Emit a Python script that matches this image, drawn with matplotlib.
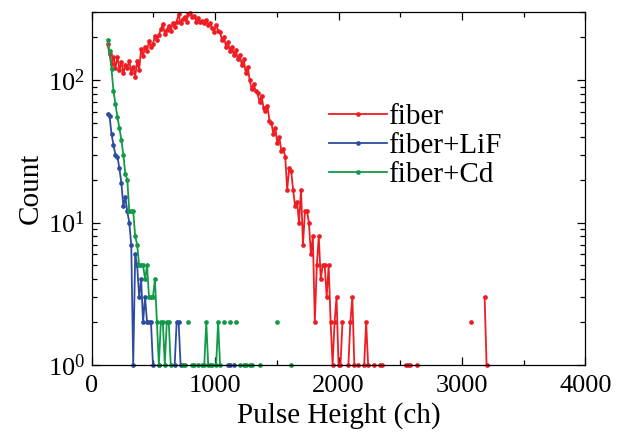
import numpy as np
import matplotlib
matplotlib.use("Agg")
import matplotlib.pyplot as plt
from matplotlib.ticker import MultipleLocator, LogLocator

plt.rcParams["font.family"] = ["Liberation Serif", "DejaVu Serif"]
plt.rcParams["mathtext.fontset"] = "custom"
plt.rcParams["mathtext.rm"] = "Liberation Serif"
plt.rcParams["mathtext.it"] = "Liberation Serif:italic"

RED, BLUE, GREEN = "#ee1d23", "#2e4c9f", "#119a48"

# histogram grid (channels), 16 ch per bin starting at ch 128
BIN0, BIN = 128, 16

# fiber: dense part 128..2032, then sparse tail
fiber_main = [180, 152, 130, 146, 122, 146, 118, 134, 112, 128, 122, 137,
              112, 124, 106, 137, 118, 165, 148, 170, 160, 188, 170, 180,
              204, 190, 208, 228, 248, 212, 226, 240, 222, 250, 236, 258,
              290, 250, 268, 278, 258, 292, 298, 276, 280, 258, 272, 256,
              262, 250, 264, 244, 252, 232, 218, 244, 222, 218, 190, 200,
              172, 185, 160, 172, 150, 162, 140, 150, 128, 140, 112, 124,
              100, 86, 94, 84, 81, 70, 78, 64, 61, 66, 52, 50,
              42, 46, 36, 40, 32, 33, 29, 17, 24, 23, 17, 13,
              14, 10, 17, 7, 12, 12, 10, 6, 8, 2, 5, 8,
              4, 5, 5, 3, 5, 2, 1, 2, 3, 1, 1, 2]
fiber_tail_ch = [2080, 2096, 2112, 2128, 2160, 2208, 2224, 2240, 2288, 2336,
                 2352, 2544, 2560, 2576, 2640, 3072, 3184, 3200]
fiber_tail_n = [1, 2, 3, 1, 1, 1, 2, 1, 1, 1,
                1, 1, 1, 1, 1, 2, 3, 1]

# fiber+LiF
lif_main = [58, 56, 42, 35, 30, 29, 24, 19, 13, 15, 12, 10,
            7, 1, 6, 5, 3, 4, 2, 3, 2, 2, 2, 1]
lif_tail_ch = [544, 672, 688, 704, 720, 1104, 1120, 1152]
lif_tail_n = [1, 1, 2, 2, 1, 1, 1, 1]

# fiber+Cd
cd_main = [192, 160, 120, 84, 68, 55, 46, 38, 30, 22, 20, 12,
           12, 12, 8, 7, 5, 5, 5, 4, 5, 3, 3, 3,
           4, 2, 1, 2, 2, 1, 2, 2, 1]
cd_tail_ch = [736, 752, 784, 816, 832, 864, 896, 912, 928, 944, 960, 976,
              1008, 1024, 1040, 1072, 1120, 1168, 1200, 1232, 1248, 1280,
              1296, 1360, 1504, 1616]
cd_tail_n = [1, 1, 2, 1, 1, 1, 1, 1, 2, 1, 1, 1,
             1, 2, 1, 2, 2, 2, 1, 1, 1, 1,
             1, 1, 2, 1]

labels = ["fiber", "fiber+LiF", "fiber+Cd"]


def spectrum(main, tail_ch, tail_n, last=3216):
    ch = np.arange(BIN0, last + 1, BIN)
    n = np.zeros(ch.size)
    n[:len(main)] = main
    for c, v in zip(tail_ch, tail_n):
        n[(c - BIN0) // BIN] = v
    return ch, np.where(n > 0, n, np.nan)   # empty bins -> gap (log axis)


fig = plt.figure(figsize=(6.2, 4.36), dpi=100)
ax = fig.add_axes([0.148, 0.163, 0.796, 0.809])

series = [(fiber_main, fiber_tail_ch, fiber_tail_n, RED),
          (lif_main, lif_tail_ch, lif_tail_n, BLUE),
          (cd_main, cd_tail_ch, cd_tail_n, GREEN)]
for (m, tc, tn, col), lab in zip(series, labels):
    x, y = spectrum(m, tc, tn)
    ax.plot(x, y, "-o", color=col, lw=1.3, ms=3.4, mew=0, label=lab, clip_on=False)

ax.set_yscale("log")
ax.set_xlim(0, 4000)
ax.set_ylim(1, 300)
ax.xaxis.set_major_locator(MultipleLocator(1000))
ax.xaxis.set_minor_locator(MultipleLocator(500))
ax.yaxis.set_major_locator(LogLocator(base=10))
ax.yaxis.set_minor_locator(LogLocator(base=10, subs=np.arange(2, 10)))
ax.tick_params(which="both", direction="in", top=True, right=True, width=0.9,
               labelsize=19)
ax.tick_params(axis="x", pad=7)
ax.tick_params(axis="y", pad=5)
ax.tick_params(which="major", length=6)
ax.tick_params(which="minor", length=3.5)
for s in ax.spines.values():
    s.set_linewidth(0.9)

ax.set_xlabel("Pulse Height (ch)", fontsize=21, labelpad=4)
ax.set_ylabel("Count", fontsize=21, labelpad=3)

ax.legend(loc="upper left", bbox_to_anchor=(0.48, 0.74), frameon=False,
          fontsize=21, handlelength=2.0, handletextpad=0.05, labelspacing=0.08,
          borderpad=0, borderaxespad=0, numpoints=1)

fig.savefig("out.png", dpi=100)
